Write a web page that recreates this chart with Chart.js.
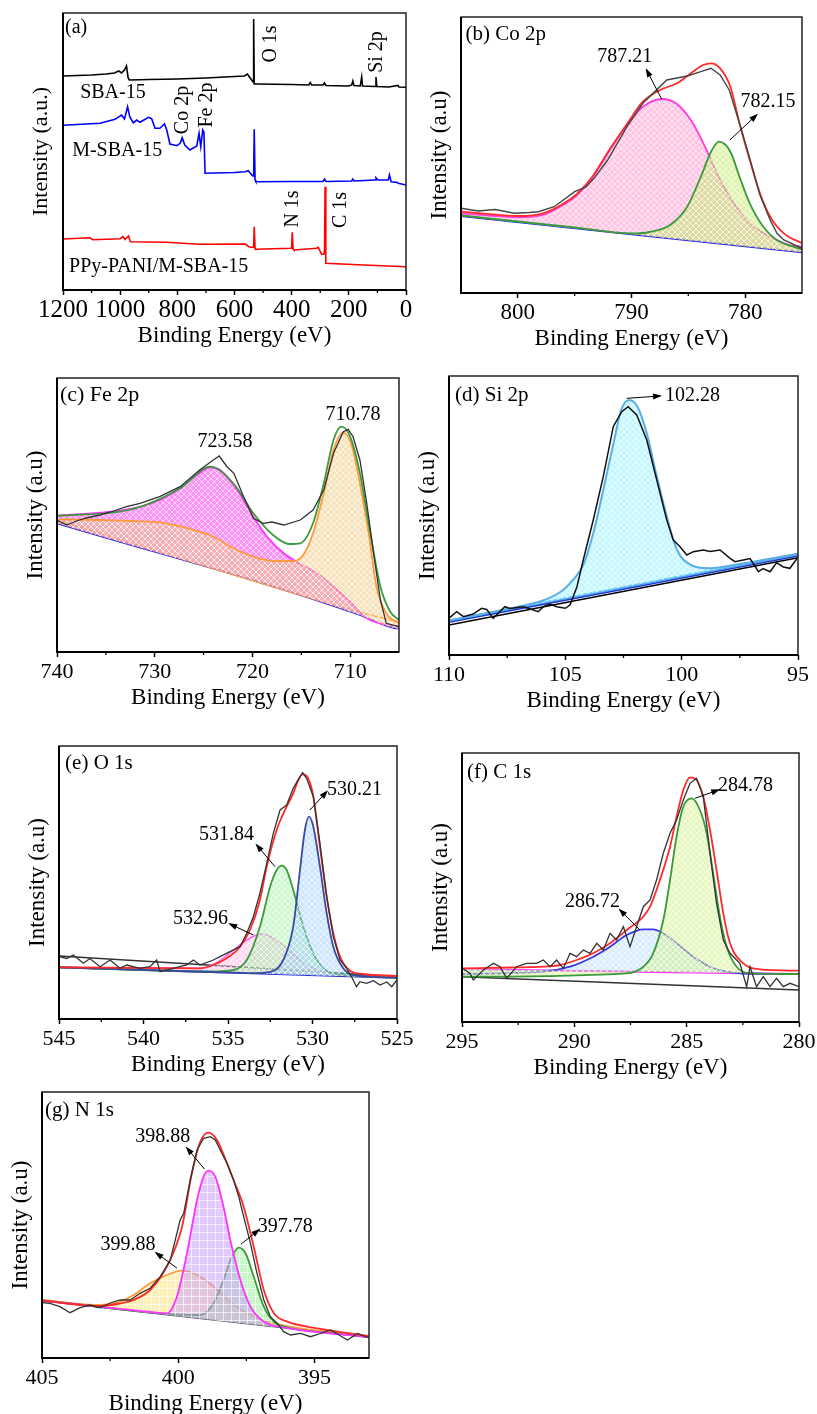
<!DOCTYPE html>
<html>
<head>
<meta charset="utf-8">
<script src="https://cdn.jsdelivr.net/npm/chart.js"></script>
<style>
  body { margin: 0; background: #fff; width: 817px; height: 1414px; position: relative; overflow: hidden; }
  canvas { position: absolute; }
</style>
</head>
<body>
<script>
// ---- data: [binding energy (eV), intensity (a.u.)] ----
// (a) survey
const sbaBlack = [[1200,214],[1100,215],[1050,216],[1020,217],[1005,219],[995,217],[985,220],[978,224],[972,212],[968,210],[900,210.5],[800,211],[700,212],[600,213.5],[565,214],[555,216],[545,212],[535,208],[533,271],[531,206],[520,206],[400,205.5],[340,205],[335,207.5],[330,205],[290,205],[285,207],[280,204.5],[200,204],[190,205],[186,209],[182,204.5],[160,204],[155,213],[152,204],[108,203.5],[105,213],[102,203.5],[60,203],[28,204.5],[25,203],[0,202.7]];
const mBlue = [[1200,164.7],[1070,166.7],[1018,170.7],[995,175],[985,171],[974,183.3],[966,172.7],[954,167.3],[942,170],[931,167.7],[917,170],[901,172.7],[890,171.3],[878,161.7],[861,161.7],[845,166],[837,160],[826,146],[802,144.3],[790,146.7],[783,152.3],[774,145],[756,140],[732,144],[724,156.7],[718,143.3],[711,160],[707,158],[703,116.7],[600,117.5],[563,118.3],[552,119.3],[537,114.3],[533,114],[531,160.7],[528,110],[525,108.3],[400,108.5],[290,108.5],[285,111],[280,108.5],[190,109],[186,111],[182,109],[108,110],[105,112.3],[100,110.5],[95,110],[62,110],[58,115],[52,108.3],[30,107.5],[27,106.7],[0,105]];
const ppyRed = [[1200,51],[1106,52.3],[1095,50.3],[1000,51.3],[990,53.3],[983,50.5],[971,54],[964,48.3],[838,47.7],[722,45.7],[562,46],[550,43.3],[540,42.7],[533,43],[531,63.3],[528,41],[525,40.7],[406,41.7],[400,42],[398,57.7],[395,41],[392,40],[313,41.7],[307,42.7],[295,35.7],[287,36],[285,40],[283,103.3],[281,27],[280,26.7],[150,25],[0,23.3]];

// (b) Co 2p
const coRaw = [[805,84.7],[803.5,82],[802,83.5],[800.3,79.7],[799,80.5],[798.2,81.3],[796.8,86.3],[795,101.3],[794,106],[793.3,114.7],[792.1,133],[790.4,166.3],[789,189.7],[786.9,213],[785.1,217],[783.9,221.3],[783,224.7],[782.2,218],[781.4,203],[780.5,169.7],[779.6,134.7],[778.7,98],[777.8,73],[777.2,59.7],[776.6,53],[775,44.7]];
const coRed = [[805,81.3],[799.8,77],[797.8,79.7],[796.3,87.3],[794.8,99],[793.4,117],[791.9,144],[790.4,169],[789,191.3],[787.5,203],[786,209.7],[784.6,221.3],[783.7,228],[783,229.7],[782.2,224.7],[781.3,206.3],[780.5,169.7],[779.6,133],[778.7,99.7],[777.8,76.3],[776.6,59.7],[775,49.7]];
const coPink = [[805,79.7],[799.8,75.7],[797.8,78],[796.3,86.3],[794.8,98],[793.4,116.3],[791.9,143],[790.4,168],[789,186.3],[787.3,194],[786,189],[784.6,169.7],[783.4,143],[782.2,113],[781,89.7],[779.6,69.7],[777.8,56.3],[776.1,48],[775,46.3]];
const coGreen = [[805,77.5],[795,65.5],[790,59.5],[788.4,61],[786.6,68],[785.1,86.3],[783.9,116.3],[783,141.3],[782.3,151.3],[781.3,141.3],[780.5,116.3],[779.6,89.7],[778.4,66.3],[777.2,53],[775,43.7]];
const coBase = [[805,77],[775,40.7]];

// (c) Fe 2p
const feRaw = [[740,132],[739,127],[738,131],[737,134],[735.6,137],[734.5,140],[732.9,145.3],[731.5,148.7],[729.5,155.3],[727.4,165.3],[725.4,182],[724,192],[723.4,196],[722.6,185.3],[721.9,178.7],[720.9,155.3],[719.9,133.7],[718.9,128.7],[718,130],[716.8,127],[715.1,132],[713.8,142],[712.7,162],[711.7,198.7],[710.7,220.3],[710.2,222.7],[709.7,215.3],[709,192],[708.3,148.7],[707.6,98.7],[706.9,52],[706.3,28.7],[705,25.3]];
const feGreen = [[740,136],[732.2,143],[727.4,163.7],[724.3,185.3],[721.9,168],[719.9,138.7],[717.9,117],[716.2,108],[715.1,108.7],[713.8,128.7],[712.7,168.7],[711.7,212],[710.9,225.3],[710,215.3],[709,178.7],[708,122],[706.9,65.3],[705.9,40.3],[705,32]];
const feOrange = [[740,132.7],[735.6,132],[732.2,131],[728.8,128.7],[726,122],[724,115.3],[721.9,103.7],[719.9,95.3],[717.9,91],[715.8,91],[714.8,97],[713.8,118.7],[712.7,158.7],[711.7,202],[710.7,219.3],[709.8,205.3],[709,168.7],[708.1,118.7],[707.3,65.3],[706.3,38.7],[705,28.7]];
const feMagenta = [[740,136.7],[735.6,139.3],[732.2,143.7],[729.5,152],[727.4,163.7],[725.7,177],[724.3,184.7],[723.3,182],[721.9,167],[720.9,152],[719.9,135.3],[718.5,115.3],[716.8,98.7],[715.5,90.3],[713.4,78.7],[711.7,65.3],[710,50.3],[708.3,33.7],[705,25.3]];
const feLow = [[740,132],[709,39.7],[705,30]];
const feBase = [[740,128.7],[709,37],[707,29],[705.5,24],[705,23.5]];

// (d) Si 2p
const siRaw = [[110,36.7],[109.67,43.3],[109.38,38.3],[108.96,41],[108.6,46.7],[108.38,45.5],[108.1,36.7],[107.6,48.3],[107.38,46.5],[106.8,48.3],[106.16,43.3],[105.95,48.3],[105.66,51],[105.37,48.3],[105,46.7],[104.8,50],[104.5,68.3],[104.23,95],[103.8,135],[103.37,178.3],[102.94,228.3],[102.58,243.3],[102.3,248.3],[101.93,240],[101.5,215],[101.07,175],[100.64,135],[100.36,115],[100.07,108.3],[99.78,100],[99.5,103.3],[99.07,105],[98.78,103.5],[98.35,105],[97.92,96.7],[97.71,93.3],[97.35,95],[97.06,96.5],[96.7,83.3],[96.5,86.5],[96.2,83.3],[95.92,92.3],[95.63,88],[95.35,86.7],[95,97.7]];
const siPeak = [[110,34.3],[107,48.5],[105.9,55],[105.2,63.3],[104.8,71.7],[104.2,91.7],[103.8,121.7],[103.4,161.7],[102.9,215],[102.6,245],[102.26,255],[101.9,248.3],[101.5,221.7],[101.1,181.7],[100.6,135],[100.2,105],[99.6,90],[98.8,86.7],[97.4,91.5],[95,101]];
const siLight = [[110,34.3],[95,101]];
const siBlue = [[110,32.7],[95,99]];
const siBase = [[110,30],[95,97.3]];

// (e) O 1s
const oRaw = [[545,62.3],[544.54,60.5],[544.15,64],[543.56,55.7],[543.17,60.5],[542.57,52.3],[541.98,59],[541.39,50.7],[540.99,54],[540.21,50.7],[539.62,52.3],[539.22,59],[539.02,47.3],[538.24,50.7],[537.44,54],[537.05,59],[536.66,54],[535.87,59],[535.47,62.3],[534.88,67.3],[534.29,72.3],[533.89,85.7],[533.5,102.3],[533.11,125.7],[532.71,155.7],[532.32,185.7],[531.92,209],[531.53,214],[531.14,230.7],[530.74,242.3],[530.58,246.3],[530.35,240.7],[529.95,222.3],[529.56,175.7],[529.16,122.3],[528.77,82.3],[528.37,59],[527.98,50.7],[527.69,42.3],[527.4,32.3],[527.19,37.3],[526.8,35.7],[526.4,38.3],[526,34],[525.61,37],[525.31,32.3],[525,39]];
const oRed = [[545,51.7],[536.66,50.7],[535.87,54],[535.08,60.7],[534.29,72.3],[533.7,89],[533.11,119],[532.71,152.3],[532.12,189],[531.53,212.3],[531.14,225.7],[530.84,239],[530.58,244.7],[530.25,240.7],[529.95,222.3],[529.56,172.3],[529.16,122.3],[528.77,85.7],[528.37,62.3],[527.78,48.3],[526.99,45],[525,43]];
const oNavy = [[545,51.7],[536,47],[533.5,45.8],[532.71,46.5],[531.73,59],[531.14,92.3],[530.74,149],[530.45,189],[530.21,202.3],[529.95,192.3],[529.56,152.3],[529.16,105.7],[528.77,72.3],[528.18,50.7],[527.59,44],[525,41.5]];
const oGreen = [[545,51.7],[536,47.5],[534.68,49],[533.89,59],[533.11,92.3],[532.51,132.3],[532.12,149],[531.82,153.3],[531.53,149],[531.14,129],[530.54,92.3],[529.95,65.7],[529.36,50.7],[528.77,45.7],[525,41.5]];
const oPink = [[545,51.7],[536.66,50.7],[535.67,56.3],[534.68,69],[533.89,79],[533.3,84],[532.91,84.7],[532.32,80.7],[531.53,70.7],[530.74,59],[529.95,50.7],[528.77,45],[525,41.5]];
const oShirley = [[545,63],[525,42.3]];
const oBase = [[545,51.7],[525,41.3]];

// (f) C 1s
const cRaw = [[295,53.7],[294.64,48.7],[294.5,42],[294.05,52],[293.6,58.7],[293.31,55.3],[293.01,43.7],[292.57,55.3],[292.12,58.7],[291.68,58.7],[291.38,62],[291.08,55.3],[290.79,62],[290.49,53.7],[290.19,68.7],[289.9,65.3],[289.6,72],[289.3,68.7],[289,78.7],[288.71,72],[288.41,88.7],[288.12,82],[287.82,95.3],[287.52,75.3],[287.23,95.3],[286.93,115.3],[286.63,122],[286.34,142],[286.04,168.7],[285.74,188.7],[285.45,202],[285.15,222],[284.85,238.7],[284.56,243.7],[284.26,225.3],[283.96,168.7],[283.67,118.7],[283.37,82],[283.07,68.7],[282.63,58.7],[282.33,35.3],[282.18,55.3],[281.89,35.3],[281.59,45.3],[281.29,35.3],[281,43.7],[280.7,35.3],[280.4,38.7],[280,35.3]];
const cRed = [[295,53.7],[292.86,54.5],[291.38,55.3],[290.64,57],[289.9,62],[289.16,68.7],[288.41,78.7],[287.67,92],[286.93,105.3],[286.63,115.3],[286.19,142],[285.74,175.3],[285.45,205.3],[285.15,232],[284.85,244.7],[284.56,242],[284.26,225.3],[283.96,192],[283.67,152],[283.37,108.7],[283.07,78.7],[282.48,58.7],[281.74,52.7],[280,51.3]];
const cGreen = [[295,45.3],[287.67,48.7],[286.93,55.3],[286.49,68.7],[286.04,102],[285.74,142],[285.45,185.3],[285.15,215.3],[284.78,223.7],[284.41,212],[284.11,188.7],[283.82,148.7],[283.52,105.3],[283.22,75.3],[282.78,55.3],[282.18,48.7],[280,48]];
const cBlue = [[295,48],[291.38,50.3],[290.19,55.3],[289.16,65.3],[288.41,75.3],[287.67,87],[286.93,92.7],[286.49,92.7],[286.04,88.7],[285.45,78.7],[284.7,65.3],[283.96,55.3],[283.22,50.3],[282.48,48.5],[280,48]];
const cMag = [[295,52.7],[280,48]];
const cBase = [[295,45.3],[280,32]];

// (g) N 1s
const nRaw = [[405,55.5],[404.71,54.7],[404.34,51.3],[403.97,45.3],[403.6,50.3],[403.24,53],[402.87,50.3],[402.5,55],[402.13,58],[401.76,58],[401.4,64.7],[401.03,69.7],[400.66,81.3],[400.29,98],[399.93,138],[399.8,144.7],[399.56,178],[399.31,208],[399.07,219.7],[398.82,221.3],[398.64,218],[398.46,208],[398.21,194.7],[397.97,178],[397.78,161.3],[397.6,141.3],[397.35,114.7],[397.11,84.7],[396.86,58],[396.62,41.3],[396.37,34.7],[396.13,26.3],[395.88,23],[395.51,24.7],[395.15,21.3],[394.78,24.5],[394.41,28],[394.04,22],[393.79,18],[393.42,24.5],[393,20]];
const nRed = [[405,57.3],[402.87,52],[402.25,54],[401.64,58],[401.03,68],[400.42,91.3],[399.86,131.3],[399.5,184.7],[399.19,216.3],[398.89,225.3],[398.58,218],[398.21,194.7],[397.97,178],[397.6,151.3],[397.23,111.3],[396.86,68],[396.49,44.7],[396,36.3],[394.9,29.7],[393,22]];
const nMag = [[405,57.5],[401.03,46],[400.42,44.7],[400.05,61.3],[399.68,104.7],[399.31,158],[399.07,181.3],[398.89,187.3],[398.64,181.3],[398.34,151.3],[398.09,118],[397.72,78],[397.35,51.3],[396.86,36.3],[396.13,30.7],[393,21]];
const nGreen = [[405,57.5],[399.19,43],[398.7,54.7],[398.34,78],[398.03,101.3],[397.78,110.3],[397.53,104.7],[397.23,81.3],[396.86,51.3],[396.49,36.3],[396,30.7],[394.9,26.3],[393,21]];
const nOrange = [[405,58],[402.87,53],[402.25,55.3],[401.64,63],[401.03,74.7],[400.42,83],[399.86,87.3],[399.31,83],[398.7,71.3],[398.09,56.3],[397.47,44.7],[396.74,36.3],[395.51,29.7],[393,22]];
const nBase = [[405,57.3],[393,20.7]];

// ---- text labels and arrows (data coordinates) ----
const aNotes = [
  {t:'(a)', x:1193, y:262, al:'left'},
  {t:'O 1s', x:472, y:246, rot:true},
  {t:'Si 2p', x:101, y:238, rot:true},
  {t:'SBA-15', x:1140, y:197, al:'left'},
  {t:'M-SBA-15', x:1168, y:139, al:'left'},
  {t:'Co 2p', x:780, y:180, rot:true},
  {t:'Fe 2p', x:696, y:185, rot:true},
  {t:'N 1s', x:395, y:81, rot:true},
  {t:'C 1s', x:227, y:80, rot:true},
  {t:'PPy-PANI/M-SBA-15', x:1179, y:23, al:'left'}
];
const bNotes = [{t:'(b) Co 2p', x:804.6, y:259, al:'left', s:21}, {t:'787.21', x:790.6, y:236}, {t:'782.15', x:778, y:191}];
const bArrows = [[787.35,194,788.67,223],[781.34,153,779,178]];
const cNotes = [{t:'(c) Fe 2p', x:739.7, y:257, al:'left', s:22}, {t:'723.58', x:722.8, y:210}, {t:'710.78', x:709.7, y:237}];
const dNotes = [{t:'(d) Si 2p', x:109.74, y:260, al:'left', s:21}, {t:'102.28', x:100.72, y:259, al:'left'}];
const dArrows = [[102.36,256.7,100.93,259]];
const eNotes = [{t:'(e) O 1s', x:544.64, y:256, al:'left', s:21}, {t:'530.21', x:529.14, y:229, al:'left'}, {t:'531.84', x:535.09, y:184}, {t:'532.96', x:536.63, y:100}];
const eArrows = [[530.15,209,529.16,227.3],[532.22,152.3,533.3,174],[533.5,84,534.88,95]];
const fNotes = [{t:'(f) C 1s', x:294.78, y:250, al:'left', s:21}, {t:'284.78', x:283.61, y:236, al:'left'}, {t:'286.72', x:289.19, y:120}];
const fArrows = [[284.63,223.7,283.59,232],[287.08,92,287.97,112]];
const gNotes = [{t:'(g) N 1s', x:404.89, y:248, al:'left', s:21}, {t:'398.88', x:400.57, y:221}, {t:'397.78', x:396.07, y:131}, {t:'399.88', x:401.84, y:113}];
const gArrows = [[399.04,189,399.68,210],[397.69,114,397.05,128],[400.05,90,400.81,105]];

// ---- helpers ----
const FONT = "'Liberation Serif', 'Times New Roman', serif";
Chart.defaults.font.family = FONT;
Chart.defaults.color = '#000';

function hatch(color, kind) {
  const n = kind === 'grid' ? 8 : 6;
  const c = document.createElement('canvas');
  c.width = c.height = n;
  const g = c.getContext('2d');
  g.fillStyle = color;
  g.fillRect(0, 0, n, n);
  g.strokeStyle = 'rgba(255,255,255,0.6)';
  g.lineWidth = 1;
  g.beginPath();
  if (kind === 'grid') {
    g.moveTo(0, 0.5); g.lineTo(n, 0.5);
    g.moveTo(0.5, 0); g.lineTo(0.5, n);
  } else {
    g.moveTo(0, 0); g.lineTo(n, n);
    g.moveTo(n, 0); g.lineTo(0, n);
  }
  g.stroke();
  return g.createPattern(c, 'repeat');
}

const raw = {cubicInterpolationMode: 'default', tension: 0};
function ds(arr, color, width, extra) {
  return Object.assign({
    data: arr.map(p => ({x: p[0], y: p[1]})),
    borderColor: color,
    borderWidth: width,
    pointRadius: 0,
    fill: false,
    cubicInterpolationMode: 'monotone'
  }, extra || {});
}

const panels = {
  a: {L:63, T:13, R:406, B:290, min:0, max:1200, step:100, major:200, ymax:277, tick:25, tpad:0, ytitle:'Intensity (a.u.)', yfont:22, notes:aNotes, arrows:[],
      sets: () => [ds(sbaBlack,'#000',1.6,raw), ds(mBlue,'#0000ff',1.6,raw), ds(ppyRed,'#ff0000',1.6,raw)]},
  b: {L:461, T:17, R:802, B:293, min:775, max:805, step:5, major:10, ymax:276, tick:23, tpad:1, notes:bNotes, arrows:bArrows,
      sets: () => [ds(coRaw,'#444',1.4,raw), ds(coRed,'#ff2a2a',1.8),
        ds(coGreen,'#3b9a3b',1.8,{fill:4, backgroundColor: hatch('rgba(195,235,110,0.55)')}),
        ds(coPink,'#ff3de0',1.8,{fill:4, backgroundColor: hatch('rgba(255,140,200,0.5)')}),
        ds(coBase,'#2a2ae8',2)]},
  c: {L:57, T:378, R:399, B:652, min:705, max:740, step:5, major:10, ymax:274, tick:22, tpad:2, notes:cNotes, arrows:[],
      sets: () => [ds(feRaw,'#333',1.3,raw), ds(feGreen,'#3b9a3b',1.8),
        ds(feOrange,'#ff9a3c',1.8,{fill:5, backgroundColor: hatch('rgba(240,200,120,0.5)')}),
        ds(feMagenta,'#ff33ff',1.8,{fill:5, backgroundColor: hatch('rgba(250,60,240,0.55)')}),
        ds(feLow,'#ff9a3c',1.5), ds(feBase,'#2a2ae8',1.8)]},
  d: {L:449, T:376, R:798, B:655, min:95, max:110, step:2.5, major:5, ymax:279, tick:22, tpad:2, notes:dNotes, arrows:dArrows,
      sets: () => [ds(siRaw,'#111',1.5,raw),
        ds(siPeak,'#5aaee6',2,{fill:3, backgroundColor: hatch('rgba(150,240,255,0.55)')}),
        ds(siBlue,'#1a3ad0',1.5), ds(siLight,'#4aa8f0',2.5), ds(siBase,'#000',1.5)]},
  e: {L:59, T:746, R:397, B:1019, min:525, max:545, step:2.5, major:5, ymax:273, tick:22, tpad:2, notes:eNotes, arrows:eArrows,
      sets: () => [ds(oRaw,'#333',1.3,raw), ds(oRed,'#ff2a2a',1.8),
        ds(oNavy,'#3a4aa0',1.8,{fill:6, backgroundColor: hatch('rgba(150,200,255,0.45)')}),
        ds(oGreen,'#3c9c3c',1.8,{fill:6, backgroundColor: hatch('rgba(150,240,150,0.45)')}),
        ds(oPink,'#ff66ee',1.5,{fill:6, backgroundColor: hatch('rgba(255,170,230,0.45)')}),
        ds(oShirley,'#333',1.5), ds(oBase,'#3030e0',2)]},
  f: {L:462, T:753, R:799, B:1022, min:280, max:295, step:2.5, major:5, ymax:269, tick:22, tpad:2, notes:fNotes, arrows:fArrows,
      sets: () => [ds(cRaw,'#333',1.3,raw), ds(cRed,'#ff2a2a',1.8),
        ds(cGreen,'#3a9a3a',1.8,{fill:4, backgroundColor: hatch('rgba(205,240,130,0.5)')}),
        ds(cBlue,'#3a3ae0',1.8,{fill:4, backgroundColor: hatch('rgba(170,215,255,0.45)')}),
        ds(cMag,'#ff33ff',2), ds(cBase,'#333',1.5)]},
  g: {L:42, T:1092, R:369, B:1358, min:393, max:405, step:2.5, major:5, ymax:266, tick:22, tpad:2, notes:gNotes, arrows:gArrows,
      sets: () => [ds(nRaw,'#333',1.3,raw), ds(nRed,'#ff2a2a',1.8),
        ds(nMag,'#ff33ff',1.8,{fill:5, backgroundColor: hatch('rgba(200,160,250,0.55)','grid')}),
        ds(nGreen,'#3a9a3a',1.8,{fill:5, backgroundColor: hatch('rgba(150,240,150,0.5)','grid')}),
        ds(nOrange,'#ff9a3c',1.8,{fill:5, backgroundColor: hatch('rgba(250,230,130,0.55)','grid')}),
        ds(nBase,'#556',1.5)]}
};

const isMajor = (v, m) => Math.abs(v / m - Math.round(v / m)) < 1e-6;

const decor = {
  id: 'decor',
  afterDraw(chart) {
    const p = panels[chart.canvas.id];
    const {ctx, chartArea: a} = chart;
    const xs = chart.scales.x, ys = chart.scales.y;
    ctx.save();
    // minor ticks
    ctx.strokeStyle = '#000';
    ctx.lineWidth = 1.3;
    xs.ticks.forEach(t => {
      if (isMajor(t.value, p.major)) return;
      const px = xs.getPixelForValue(t.value);
      if (px <= a.left + 1 || px >= a.right - 1) return;
      ctx.beginPath(); ctx.moveTo(px, a.bottom); ctx.lineTo(px, a.bottom + 3); ctx.stroke();
    });
    // frame
    ctx.lineWidth = 1.5;
    ctx.strokeStyle = '#222';
    ctx.strokeRect(a.left, a.top, a.right - a.left, a.bottom - a.top);
    ctx.lineWidth = 2;
    ctx.strokeStyle = '#000';
    ctx.beginPath();
    ctx.moveTo(a.left, a.top); ctx.lineTo(a.left, a.bottom); ctx.lineTo(a.right, a.bottom);
    ctx.stroke();
    // labels
    ctx.fillStyle = '#000';
    ctx.textBaseline = 'middle';
    p.notes.forEach(n => {
      const x = xs.getPixelForValue(n.x), y = ys.getPixelForValue(n.y);
      ctx.font = (n.s || 20) + 'px ' + FONT;
      ctx.textAlign = n.al || 'center';
      if (n.rot) {
        ctx.save(); ctx.translate(x, y); ctx.rotate(-Math.PI / 2);
        ctx.textAlign = 'center'; ctx.fillText(n.t, 0, 0); ctx.restore();
      } else {
        ctx.fillText(n.t, x, y);
      }
    });
    // arrows
    ctx.lineWidth = 1;
    p.arrows.forEach(r => {
      const x1 = xs.getPixelForValue(r[0]), y1 = ys.getPixelForValue(r[1]);
      const x2 = xs.getPixelForValue(r[2]), y2 = ys.getPixelForValue(r[3]);
      const ang = Math.atan2(y2 - y1, x2 - x1);
      ctx.beginPath(); ctx.moveTo(x1, y1); ctx.lineTo(x2, y2); ctx.stroke();
      ctx.beginPath();
      ctx.moveTo(x2 + 2 * Math.cos(ang), y2 + 2 * Math.sin(ang));
      ctx.lineTo(x2 - 7 * Math.cos(ang) + 3 * Math.sin(ang), y2 - 7 * Math.sin(ang) - 3 * Math.cos(ang));
      ctx.lineTo(x2 - 7 * Math.cos(ang) - 3 * Math.sin(ang), y2 - 7 * Math.sin(ang) + 3 * Math.cos(ang));
      ctx.closePath(); ctx.fill();
    });
    ctx.restore();
  }
};

const YW = 35, PT = 4, XH = 60, PR = 22, PB = 2;

Object.keys(panels).forEach(id => {
  const p = panels[id];
  const cv = document.createElement('canvas');
  cv.id = id;
  cv.width = (p.R - p.L) + YW + PR;
  cv.height = (p.B - p.T) + PT + XH + PB;
  cv.style.left = (p.L - YW) + 'px';
  cv.style.top = (p.T - PT) + 'px';
  document.body.appendChild(cv);

  new Chart(cv, {
    type: 'line',
    data: {datasets: p.sets()},
    options: {
      responsive: false,
      animation: false,
      events: [],
      layout: {padding: {left: 0, top: PT, right: PR, bottom: PB}},
      plugins: {legend: {display: false}, tooltip: {enabled: false}},
      scales: {
        x: {
          type: 'linear',
          reverse: true,
          min: p.min,
          max: p.max,
          border: {display: false},
          grid: {
            display: true,
            drawOnChartArea: false,
            drawTicks: true,
            tickLength: 5,
            tickWidth: 1.5,
            tickColor: c => (c.tick && isMajor(c.tick.value, p.major)) ? '#000' : 'rgba(0,0,0,0)'
          },
          ticks: {
            stepSize: p.step,
            includeBounds: false,
            autoSkip: false,
            maxRotation: 0,
            minRotation: 0,
            padding: p.tpad,
            color: '#000',
            font: {size: p.tick},
            callback: v => isMajor(v, p.major) ? String(v) : ''
          },
          title: {display: true, text: 'Binding Energy (eV)', color: '#000', font: {size: 23}, padding: {top: 0, bottom: 0}},
          afterFit: s => { s.height = XH; }
        },
        y: {
          type: 'linear',
          min: 0,
          max: p.ymax,
          border: {display: false},
          grid: {display: false},
          ticks: {display: false},
          title: {display: true, text: p.ytitle || 'Intensity (a.u)', color: '#000', font: {size: p.yfont || 23}, padding: {top: 0, bottom: 0}},
          afterFit: s => { s.width = YW; }
        }
      }
    },
    plugins: [decor]
  });
});
</script>
</body>
</html>
